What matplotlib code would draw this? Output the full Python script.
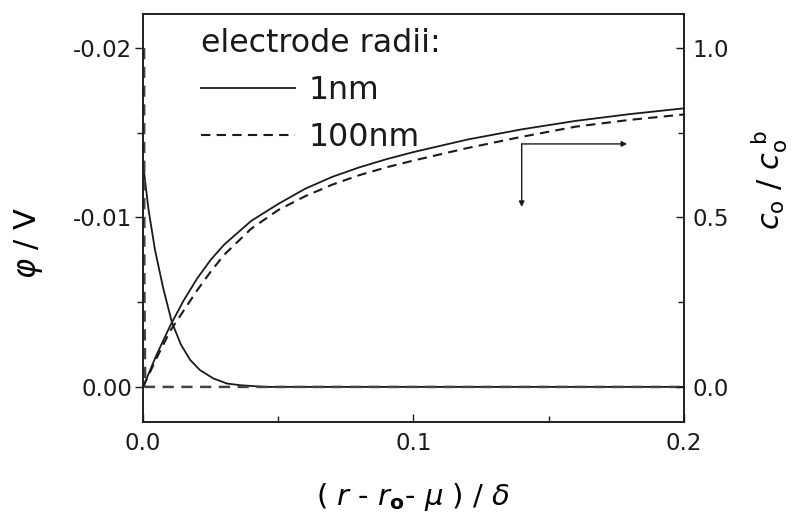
"""
Potential and concentration profiles near a nanoelectrode for two electrode radii.
"""

import matplotlib

matplotlib.use("Agg")
import matplotlib.pyplot as plt
from matplotlib.ticker import MultipleLocator, FormatStrFormatter

# potential curves, distance ( r - r0 - mu ) / delta
X_PHI_1NM = [0.0, 0.002, 0.0044, 0.0075, 0.0107, 0.014, 0.0174, 0.021, 0.026, 0.031, 0.036, 0.045, 0.06, 0.2]
PHI_1NM = [-0.0132, -0.0105, -0.0081, -0.0058, -0.0038, -0.0025, -0.0016, -0.0010, -0.0005, -0.0002, -0.0001, 0.0, 0.0, 0.0]

X_PHI_100NM = [0.0004, 0.0005, 0.0008, 0.2]
PHI_100NM = [-0.0200, -0.0060, 0.0, 0.0]

# surface concentration ratio c_o / c_o^b
X_CONC = [0.0, 0.005, 0.01, 0.015, 0.02, 0.025, 0.03, 0.04, 0.05, 0.06, 0.07,
          0.08, 0.09, 0.10, 0.12, 0.14, 0.16, 0.18, 0.20]
CONC_1NM = [0.0, 0.095, 0.18, 0.255, 0.32, 0.375, 0.42, 0.49, 0.54, 0.585, 0.62,
            0.648, 0.672, 0.693, 0.73, 0.76, 0.785, 0.805, 0.822]
CONC_100NM = [0.0, 0.085, 0.165, 0.225, 0.285, 0.34, 0.39, 0.467, 0.522, 0.563, 0.597,
              0.625, 0.648, 0.668, 0.705, 0.738, 0.768, 0.788, 0.804]

LEGEND_LABELS = ["1nm", "100nm"]

# arrow pointing to the right-hand axis (data units of the concentration axis)
ARROW_CORNER = (0.140, 0.717)
ARROW_RIGHT_END = (0.179, 0.717)
ARROW_DOWN_END = (0.140, 0.531)

INK = "#1a1a1a"
DASH = (0, (4.5, 3.0))


def configure_matplotlib() -> None:
    plt.rcParams.update(
        {
            "font.family": "DejaVu Sans",
            "mathtext.fontset": "dejavusans",
            "axes.linewidth": 1.1,
            "axes.edgecolor": INK,
            "xtick.color": INK,
            "ytick.color": INK,
            "text.color": INK,
        }
    )


def main() -> None:
    configure_matplotlib()
    fig = plt.figure(figsize=(8.04, 5.16), dpi=100)
    ax = fig.add_axes([0.1779, 0.1822, 0.6728, 0.7907])
    ax2 = ax.twinx()

    # potential (left axis)
    ax.plot(X_PHI_1NM, PHI_1NM, color=INK, lw=1.3)
    ax.plot(X_PHI_100NM, PHI_100NM, color="#444444", lw=1.8, linestyle=DASH)

    # concentration (right axis)
    l1, = ax2.plot(X_CONC, CONC_1NM, color=INK, lw=1.3)
    l2, = ax2.plot(X_CONC, CONC_100NM, color=INK, lw=1.5, linestyle=DASH)

    ax.set_xlim(0.0, 0.2)
    ax.set_ylim(0.00207, -0.02201)
    ax2.set_ylim(-0.1032, 1.1003)

    ax.xaxis.set_major_locator(MultipleLocator(0.1))
    ax.xaxis.set_minor_locator(MultipleLocator(0.05))
    ax.xaxis.set_major_formatter(FormatStrFormatter("%.1f"))
    ax.yaxis.set_major_locator(MultipleLocator(0.01))
    ax.yaxis.set_minor_locator(MultipleLocator(0.005))
    ax.yaxis.set_major_formatter(FormatStrFormatter("%.2f"))
    ax2.yaxis.set_major_locator(MultipleLocator(0.5))
    ax2.yaxis.set_minor_locator(MultipleLocator(0.25))
    ax2.yaxis.set_major_formatter(FormatStrFormatter("%.1f"))

    ax.tick_params(axis="x", which="both", direction="in", labelsize=16.5, pad=7, width=1.0)
    ax.tick_params(axis="x", which="major", length=6)
    ax.tick_params(axis="x", which="minor", length=4)
    ax.tick_params(axis="y", which="both", direction="out", labelsize=16.5, pad=2, width=1.0)
    ax.tick_params(axis="y", which="major", length=6)
    ax.tick_params(axis="y", which="minor", length=4)
    ax2.tick_params(axis="y", which="both", direction="in", labelsize=16.5, pad=6, width=1.0)
    ax2.tick_params(axis="y", which="major", length=6)
    ax2.tick_params(axis="y", which="minor", length=4)

    ax.set_xlabel(r"( $r$ - $r_{\mathbf{o}}$- $\mu$ ) / $\delta$", fontsize=21, labelpad=19)
    ax.set_ylabel(r"$\varphi$ / V", fontsize=22)
    ax.yaxis.set_label_coords(-0.181, 0.44)
    ax2.set_ylabel(r"$c_{\mathrm{o}}$ / $c_{\mathrm{o}}^{\ \mathrm{b}}$", fontsize=22)
    ax2.yaxis.set_label_coords(1.122, 0.593)

    ax2.legend(
        [l1, l2],
        LEGEND_LABELS,
        title="electrode radii:",
        title_fontsize=22.8,
        fontsize=22.8,
        frameon=False,
        loc="upper left",
        bbox_to_anchor=(0.108, 0.965),
        borderpad=0.0,
        borderaxespad=0.0,
        handlelength=2.95,
        handletextpad=0.42,
        labelspacing=0.5,
        alignment="left",
    )

    arrow = dict(arrowstyle="-|>", color=INK, lw=1.0, mutation_scale=8, shrinkA=0, shrinkB=0)
    ax2.annotate("", xy=ARROW_RIGHT_END, xytext=ARROW_CORNER, arrowprops=arrow)
    ax2.annotate("", xy=ARROW_DOWN_END, xytext=ARROW_CORNER, arrowprops=arrow)

    fig.savefig("out.png", dpi=100)
    plt.close(fig)


if __name__ == "__main__":
    main()
